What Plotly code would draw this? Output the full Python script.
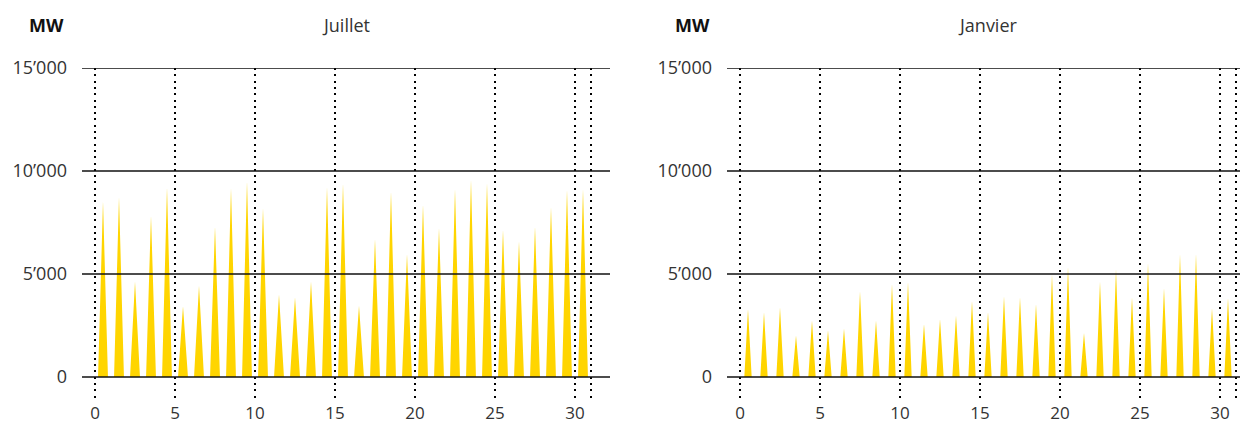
import plotly.graph_objects as go

# ---- data (daily peak solar output, MW) ----
days = list(range(31))
juillet_peaks = [8530, 8740, 4640, 7830, 9210, 3430, 4430, 7310, 9180, 9500,
                 8200, 4000, 3870, 4640, 9220, 9390, 3460, 6700, 9010, 5970,
                 8370, 7230, 9130, 9580, 9420, 7150, 6590, 7310, 8250, 9090, 9130]
janvier_peaks = [3300, 3140, 3380, 2010, 2740, 2270, 2360, 4160, 2740, 4520,
                 4610, 2570, 2820, 2980, 3690, 3160, 3920, 3870, 3540, 4970,
                 5340, 2140, 4640, 5240, 3870, 5530, 4320, 5970, 5990, 3350, 3840]
y_ticks = [0, 5000, 10000, 15000]
y_labels = ["0", "5\u2019000", "10\u2019000", "15\u2019000"]
x_ticks = [0, 5, 10, 15, 20, 25, 30, 31]
x_labels = ["0", "5", "10", "15", "20", "25", "30", ""]
titles = ["Juillet", "Janvier"]
unit = "MW"

# intraday shape: sun up / noon / sun down as fraction of day
shape_jul = (0.19, 0.5, 0.81)
shape_jan = (0.27, 0.5, 0.73)

GOLD = "#FFD500"
TXT = "#333333"
FONT = "Open Sans, Noto Sans, sans-serif"


def spikes(peaks, shape):
    xs, ys = [], []
    for d, p in zip(days, peaks):
        xs += [d + shape[0], d + shape[1], d + shape[2]]
        ys += [0, p, 0]
    return xs, ys


fig = go.Figure()
for i, (peaks, shp) in enumerate([(juillet_peaks, shape_jul), (janvier_peaks, shape_jan)]):
    xs, ys = spikes(peaks, shp)
    sfx = "" if i == 0 else str(i + 1)
    fig.add_trace(go.Scatter(x=xs, y=ys, mode="lines", fill="tozeroy",
                             fillcolor=GOLD, line=dict(width=0, color=GOLD),
                             hoverinfo="skip", showlegend=False,
                             xaxis="x" + sfx, yaxis="y" + sfx))

OFF = 8  # page body margin
W, H = 1248 - OFF, 426 - OFF
ytop, ybot = 68 - OFF, 397.6 - OFF
ydom = [1 - ybot / H, 1 - ytop / H]
panels = [(82 - OFF, 610 - OFF, 95 - OFF), (727 - OFF, 1248 - OFF, 740 - OFF)]
px_per_day = 16

layout = dict(width=W, height=H, margin=dict(l=0, r=0, t=0, b=0, autoexpand=False),
              plot_bgcolor="white", paper_bgcolor="white",
              font=dict(family=FONT, size=18, color=TXT))
annotations = []
shapes = []
for i, (l, r, x0px) in enumerate(panels):
    sfx = "" if i == 0 else str(i + 1)
    lo = -(x0px - l) / px_per_day
    hi = lo + (r - l) / px_per_day
    layout["xaxis" + sfx] = dict(domain=[l / W, r / W], range=[lo, hi],
                                 tickvals=x_ticks, ticktext=x_labels,
                                 showgrid=True, gridcolor="black", gridwidth=2,
                                 griddash="2px,4.3px", zeroline=False,
                                 showline=False, ticks="", ticklabelstandoff=3,
                                 automargin=False,
                                 tickfont=dict(size=17, color=TXT),
                                 anchor="y" + sfx, fixedrange=True)
    layout["yaxis" + sfx] = dict(domain=ydom, range=[-1000, 15000],
                                 tickvals=y_ticks, ticktext=y_labels,
                                 showgrid=False, zeroline=False, showline=False,
                                 ticks="", ticklabelstandoff=14, automargin=False,
                                 tickfont=dict(size=18, color=TXT),
                                 anchor="x" + sfx, fixedrange=True)
    for v in y_ticks:
        shapes.append(dict(type="line", xref="x" + sfx + " domain", yref="y" + sfx,
                           x0=0, x1=1, y0=v, y1=v, layer="above",
                           line=dict(color="#111111", width=1.3)))
    annotations.append(dict(text=titles[i], xref="x" + sfx + " domain", x=0.5,
                            yref="paper", y=1 - (25 - OFF) / H, showarrow=False,
                            xanchor="center", yanchor="middle",
                            font=dict(size=18, color=TXT)))
    annotations.append(dict(text="<b>" + unit + "</b>", xref="paper", x=(l - 35) / W,
                            yref="paper", y=1 - (25 - OFF) / H, showarrow=False,
                            xanchor="center", yanchor="middle",
                            font=dict(size=18, color="#111111")))

layout["annotations"] = annotations
layout["shapes"] = shapes
fig.update_layout(**layout)
fig.write_html("out.html")
